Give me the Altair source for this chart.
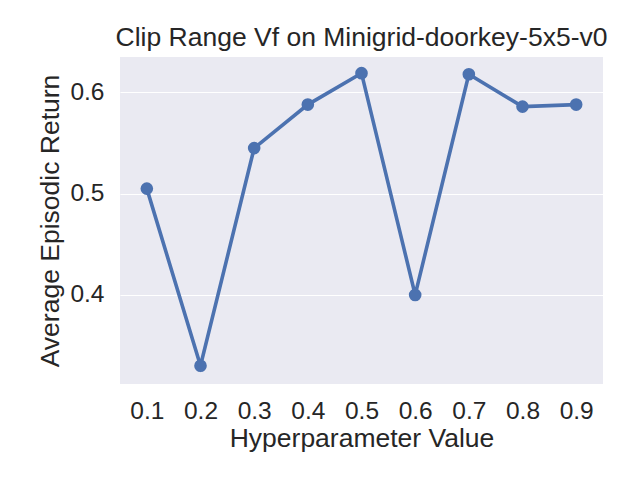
import altair as alt
import pandas as pd

hyper_values = ["0.1", "0.2", "0.3", "0.4", "0.5", "0.6", "0.7", "0.8", "0.9"]
avg_returns = [0.505, 0.330, 0.545, 0.588, 0.619, 0.400, 0.618, 0.586, 0.588]

df = pd.DataFrame({"Hyperparameter Value": hyper_values, "Average Episodic Return": avg_returns})

FONT = "Liberation Sans"
TXT = "#262626"
BLUE = "#4C72B0"

x = alt.X("Hyperparameter Value:O", sort=hyper_values,
          scale=alt.Scale(padding=0.5),
          axis=alt.Axis(labelAngle=0, ticks=False, domain=False, grid=False,
                        labelFontSize=24.5, labelFont=FONT, labelColor=TXT,
                        labelPadding=15, titleFontSize=26.5, titleFont=FONT,
                        titleColor=TXT, titleFontWeight="normal", titlePadding=3))
y = alt.Y("Average Episodic Return:Q",
          scale=alt.Scale(domain=[0.312, 0.635], nice=False, zero=False),
          axis=alt.Axis(values=[0.4, 0.5, 0.6], format=".1f", ticks=False, domain=False,
                        grid=True, gridColor="white", gridWidth=1.2,
                        labelFontSize=24.5, labelFont=FONT, labelColor=TXT, labelPadding=16,
                        titleFontSize=26.5, titleFont=FONT, titleColor=TXT,
                        titleFontWeight="normal", titlePadding=5))

base = alt.Chart(df).encode(x=x, y=y)
line = base.mark_line(color=BLUE, strokeWidth=3.6)
pts = base.mark_point(color=BLUE, filled=True, opacity=1, size=160)

chart = (line + pts).properties(
    width=483, height=327,
    background="white",
    title=alt.TitleParams("Clip Range Vf on Minigrid-doorkey-5x5-v0", font=FONT,
                          fontSize=26.5, fontWeight="normal", color=TXT, offset=6),
    autosize=alt.AutoSizeParams(type="none"),
    padding={"left": 112, "top": 49, "right": 29, "bottom": 88},
).configure_view(fill="#EAEAF2", stroke=None)

chart.save("out.html", embed_options={"renderer": "svg", "actions": False})
